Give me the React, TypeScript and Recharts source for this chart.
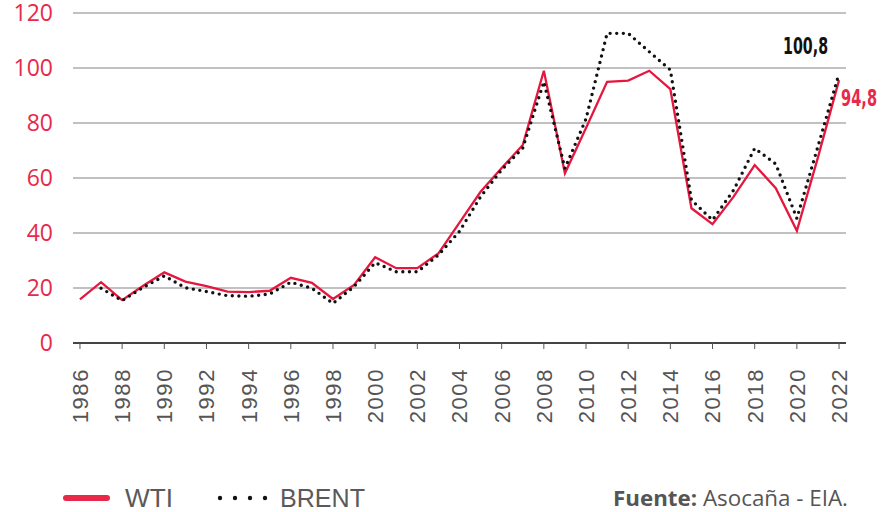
import { LineChart, Line, XAxis, YAxis, CartesianGrid, LabelList } from 'recharts';

const years = [
  1986, 1987, 1988, 1989, 1990, 1991, 1992, 1993, 1994, 1995, 1996, 1997, 1998,
  1999, 2000, 2001, 2002, 2003, 2004, 2005, 2006, 2007, 2008, 2009, 2010, 2011,
  2012, 2013, 2014, 2015, 2016, 2017, 2018, 2019, 2020, 2021, 2022,
];

// WTI, USD per barrel
const wti = [
  15.9, 22.1, 15.6, 20.8, 25.7, 22.3, 20.7, 18.7, 18.5, 19.0, 23.7, 21.9, 16.0,
  21.1, 31.2, 27.2, 27.2, 32.6, 43.8, 55.0, 63.6, 72.0, 99.0, 61.7, 78.2, 95.0,
  95.4, 99.0, 92.3, 49.0, 43.2, 53.2, 64.7, 56.3, 40.8, 67.5, 95.6,
];

// Brent, USD per barrel (no value for 1986)
const brent = [
  null, 19.9, 15.4, 20.2, 24.4, 20.1, 18.7, 17.2, 17.0, 17.8, 22.1, 19.9, 14.4,
  20.5, 29.2, 25.9, 25.9, 32.0, 40.6, 53.2, 63.0, 70.9, 95.0, 63.5, 81.5, 112.6,
  112.6, 105.9, 99.3, 52.0, 44.7, 55.6, 70.8, 65.1, 45.3, 71.5, 98.0,
];

const yTicks = [0, 20, 40, 60, 80, 100, 120];
const xTicks = [
  1986, 1988, 1990, 1992, 1994, 1996, 1998, 2000, 2002, 2004, 2006, 2008, 2010,
  2012, 2014, 2016, 2018, 2020, 2022,
];

const endLabels = { wti: '94,8', brent: '100,8' };

const RED = '#E5173F';
const LABEL_RED = '#E8294A';

const data = years.map((year, i) => ({ year, wti: wti[i], brent: brent[i] }));

function YearTick(props: any) {
  const { x, y, payload } = props;
  const ty = y + 17;
  return (
    <text
      x={x}
      y={ty}
      dy="0.36em"
      transform={`rotate(-90, ${x}, ${ty})`}
      textAnchor="end"
      fill="#555"
      fontSize={22}
      letterSpacing={1.6}
      fontFamily="'Liberation Sans', Arial, sans-serif"
    >
      {payload.value}
    </text>
  );
}

function BrentEnd(props: any) {
  const { x, y, index } = props;
  if (index !== years.length - 1) return null;
  return (
    <text
      x={x - 56}
      y={y - 20}
      fill="#111"
      fontSize={23}
      fontWeight={700}
      textLength={45}
      lengthAdjust="spacingAndGlyphs"
      fontFamily="'Liberation Sans Narrow', 'DejaVu Sans Condensed', sans-serif"
    >
      {endLabels.brent}
    </text>
  );
}

function WtiEnd(props: any) {
  const { x, y, index } = props;
  if (index !== years.length - 1) return null;
  return (
    <text
      x={x + 2}
      y={y + 26}
      fill={LABEL_RED}
      fontSize={23}
      fontWeight={700}
      textLength={36}
      lengthAdjust="spacingAndGlyphs"
      fontFamily="'Liberation Sans Narrow', 'DejaVu Sans Condensed', sans-serif"
    >
      {endLabels.wti}
    </text>
  );
}

export default function App() {
  return (
    <div style={{ position: 'absolute', left: 0, top: 0, width: 890, height: 512, background: '#fff' }}>
      <LineChart
        width={890}
        height={512}
        data={data}
        margin={{ top: 13, right: 44, left: 0, bottom: 0 }}
      >
        <CartesianGrid vertical={false} stroke="#ADADAD" strokeWidth={1.5} />
        <XAxis
          dataKey="year"
          type="number"
          domain={[1985.67, 2022.33]}
          ticks={xTicks}
          interval={0}
          height={169}
          axisLine={{ stroke: '#444', strokeWidth: 2 }}
          tickLine={{ stroke: '#555', strokeWidth: 1 }}
          tickSize={6}
          tick={<YearTick />}
        />
        <YAxis
          width={73}
          domain={[0, 120]}
          ticks={yTicks}
          interval={0}
          axisLine={false}
          tickLine={false}
          tickSize={6}
          tickMargin={14}
          tick={{
            fill: LABEL_RED,
            fontSize: 23,
            fontFamily: "'Open Sans', sans-serif",
          }}
        />
        <Line
          type="linear"
          dataKey="wti"
          stroke={RED}
          strokeWidth={2.3}
          dot={false}
          activeDot={false}
          isAnimationActive={false}
        >
          <LabelList dataKey="wti" content={<WtiEnd />} />
        </Line>
        <Line
          type="linear"
          dataKey="brent"
          stroke="#111"
          strokeWidth={3.4}
          strokeDasharray="0 6.6"
          strokeLinecap="round"
          dot={false}
          activeDot={false}
          isAnimationActive={false}
        >
          <LabelList dataKey="brent" content={<BrentEnd />} />
        </Line>
      </LineChart>

      {/* legend and source */}
      <svg
        width={890}
        height={512}
        style={{ position: 'absolute', left: 0, top: 0, pointerEvents: 'none' }}
      >
        <line x1={66} y1={498} x2={107} y2={498} stroke={LABEL_RED} strokeWidth={6} strokeLinecap="round" />
        <text x={125} y={506.5} fill="#5a5a5a" fontSize={25} textLength={48} lengthAdjust="spacingAndGlyphs" fontFamily="'Liberation Sans', Arial, sans-serif">
          WTI
        </text>
        {[220, 235, 250, 265].map((cx) => (
          <circle key={cx} cx={cx} cy={498} r={2.2} fill="#111" />
        ))}
        <text x={280} y={506.5} fill="#5a5a5a" fontSize={25} textLength={85} lengthAdjust="spacingAndGlyphs" fontFamily="'Liberation Sans', Arial, sans-serif">
          BRENT
        </text>
        <text x={613} y={506} fill="#555" fontSize={21} textLength={235} lengthAdjust="spacingAndGlyphs" fontFamily="'Open Sans', sans-serif">
          <tspan fontWeight={700}>Fuente:</tspan> Asocaña - EIA.
        </text>
      </svg>
    </div>
  );
}
